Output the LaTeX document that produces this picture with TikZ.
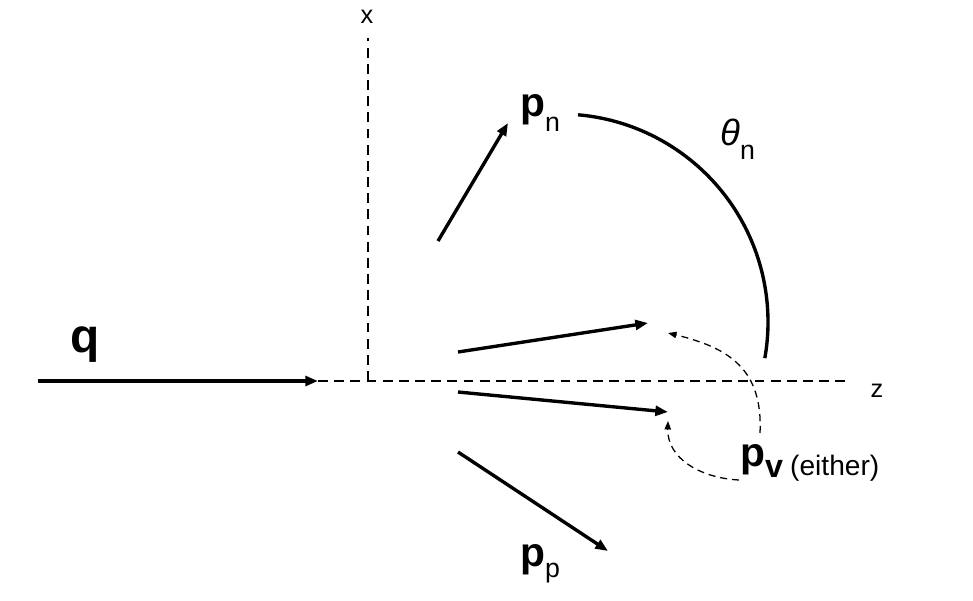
\documentclass[tikz,border=0pt]{standalone}
\usepackage{fontspec}
\setmainfont{Liberation Sans}
\usetikzlibrary{arrows.meta}

\tikzset{
    vec/.style={black, line width=2.4pt, -{Triangle[length=9pt,width=7pt]}},
    axis/.style={black, line width=1.3pt, dash pattern=on 7pt off 4.5pt},
    hint/.style={black, line width=0.9pt, dash pattern=on 5pt off 3.5pt, -{Triangle[length=6pt,width=4.5pt]}},
    lbl/.style={inner sep=0pt, anchor=base west},
}
\newcommand{\bigp}[1]{{\fontsize{29}{29}\selectfont\bfseries #1}}
\newcommand{\lowsub}[2]{\raisebox{-#1}{\fontsize{19}{19}\selectfont #2}}

\begin{document}
\begin{tikzpicture}[x=0.025cm, y=-0.025cm]
    \useasboundingbox (0,0) rectangle (973,600);

    % axes
    \coordinate (qstart) at (38,381);
    \coordinate (qtip) at (318,381);
    \coordinate (zend) at (845,381);
    \coordinate (xfoot) at (368,381);
    \coordinate (xtop) at (368,38);
    \draw[axis] (qtip) -- (zend);
    \draw[axis] (xfoot) -- (xtop);
    \node[lbl, anchor=base] (xlbl) at (367,23) {\fontsize{18}{18}\selectfont x};
    \node[lbl, anchor=base] (zlbl) at (877,397) {\fontsize{18}{18}\selectfont z};

    % incoming q
    \draw[vec] (qstart) -- (qtip);
    \node[lbl] (q) at (70,352) {\fontsize{34}{34}\selectfont\bfseries q};

    % outgoing momenta
    \coordinate (pnfoot) at (438,241);
    \coordinate (pntip) at (508,123);
    \draw[vec] (pnfoot) -- (pntip);
    \node[lbl] (pn) at (520,116) {\bigp{p}\lowsub{11pt}{n}};

    \coordinate (upfoot) at (458,352);
    \coordinate (uptip) at (648,323);
    \draw[vec] (upfoot) -- (uptip);

    \coordinate (lofoot) at (458,392);
    \coordinate (lotip) at (668,412);
    \draw[vec] (lofoot) -- (lotip);

    \coordinate (ppfoot) at (458,452);
    \coordinate (pptip) at (608,551);
    \draw[vec] (ppfoot) -- (pptip);
    \node[lbl] (pp) at (520,566) {\bigp{p}\lowsub{8.5pt}{p}};

    % angle theta_n
    \coordinate (thcenter) at (560,322);
    \draw[black, line width=2.4pt] (thcenter) ++(-85:208) arc[start angle=-85, end angle=10, radius=208];
    \node[lbl] (thn) at (720,145) {\fontsize{26}{26}\selectfont\itshape θ\lowsub{10pt}{\upshape n}};

    % p_v, either one of the two
    \node[lbl] (pv) at (740,466) {\bigp{p}\raisebox{-8.5pt}{\fontsize{23}{23}\selectfont\bfseries v}\hspace{5pt}\raisebox{-7pt}{\fontsize{20}{20}\selectfont (either)}};
    \coordinate (pvtop) at (760,433);
    \coordinate (pvleft) at (739,480);
    \coordinate (uphint) at (668,333);
    \coordinate (lohint) at (668,421);
    \draw[hint] (pvtop) .. controls (763,370) and (730,348) .. (uphint);
    \draw[hint] (pvleft) .. controls (700,478) and (667,458) .. (lohint);
\end{tikzpicture}
\end{document}
